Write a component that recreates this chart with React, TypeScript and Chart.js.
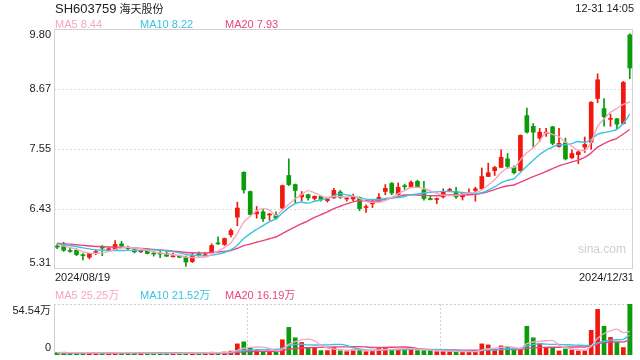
import React, { useEffect, useRef } from "react";
import { Chart, registerables } from "chart.js";

Chart.register(...registerables);

const YEAR = "2024";
const titleCode = "SH603759";
const titleName = "海天股份";
const timeStamp = "12-31 14:05";

const dates = [
  "08/19", "08/20", "08/21", "08/22", "08/23", "08/26", "08/27", "08/28", "08/29", "08/30",
  "09/02", "09/03", "09/04", "09/05", "09/06", "09/09", "09/10", "09/11", "09/12", "09/13",
  "09/18", "09/19", "09/20", "09/23", "09/24", "09/25", "09/26", "09/27", "09/30",
  "10/08", "10/09", "10/10", "10/11", "10/14", "10/15", "10/16", "10/17", "10/18",
  "10/21", "10/22", "10/23", "10/24", "10/25", "10/28", "10/29", "10/30", "10/31",
  "11/01", "11/04", "11/05", "11/06", "11/07", "11/08", "11/11", "11/12", "11/13", "11/14",
  "11/15", "11/18", "11/19", "11/20", "11/21", "11/22", "11/25", "11/26", "11/27", "11/28", "11/29",
  "12/02", "12/03", "12/04", "12/05", "12/06", "12/09", "12/10", "12/11", "12/12", "12/13",
  "12/16", "12/17", "12/18", "12/19", "12/20", "12/23", "12/24", "12/25", "12/26", "12/27",
  "12/30", "12/31",
];

const opens = [
  5.73, 5.75, 5.65, 5.66, 5.57, 5.53, 5.62, 5.71, 5.67, 5.67,
  5.78, 5.70, 5.67, 5.63, 5.67, 5.60, 5.60, 5.60, 5.54, 5.56,
  5.53, 5.45, 5.58, 5.56, 5.63, 5.79, 5.77, 5.95, 6.28, 7.12,
  6.76, 6.34, 6.38, 6.32, 6.32, 6.45, 7.06, 6.89, 6.66, 6.70,
  6.63, 6.67, 6.59, 6.64, 6.75, 6.62, 6.62, 6.65, 6.46, 6.53,
  6.58, 6.76, 6.91, 6.70, 6.86, 6.84, 6.95, 6.79, 6.62, 6.61,
  6.66, 6.78, 6.76, 6.66, 6.72, 6.78, 6.81, 7.04, 7.15, 7.21,
  7.37, 7.21, 7.15, 8.18, 7.98, 7.76, 7.84, 7.97, 7.60, 7.67,
  7.39, 7.45, 7.59, 7.68, 8.50, 8.31, 8.11, 8.12, 8.03, 9.69,
];
const highs = [
  5.78, 5.81, 5.70, 5.69, 5.60, 5.60, 5.66, 5.75, 5.71, 5.84,
  5.83, 5.74, 5.69, 5.66, 5.69, 5.64, 5.65, 5.64, 5.61, 5.57,
  5.55, 5.61, 5.63, 5.62, 5.78, 5.91, 5.89, 6.06, 6.56, 7.13,
  6.77, 6.48, 6.42, 6.35, 6.38, 6.88, 7.37, 6.90, 6.76, 6.71,
  6.68, 6.68, 6.62, 6.82, 6.78, 6.65, 6.71, 6.66, 6.51, 6.61,
  6.72, 6.89, 6.93, 6.92, 6.90, 6.96, 6.97, 6.95, 6.67, 6.64,
  6.81, 6.82, 6.84, 6.74, 6.81, 6.84, 7.20, 7.29, 7.23, 7.54,
  7.47, 7.24, 7.82, 8.32, 8.03, 7.94, 7.94, 7.98, 7.94, 7.76,
  7.54, 7.52, 7.78, 8.44, 8.96, 8.50, 8.21, 8.13, 8.82, 9.71,
];
const lows = [
  5.69, 5.64, 5.62, 5.56, 5.48, 5.50, 5.58, 5.56, 5.66, 5.67,
  5.72, 5.67, 5.61, 5.62, 5.59, 5.55, 5.52, 5.54, 5.53, 5.52,
  5.36, 5.43, 5.55, 5.55, 5.62, 5.77, 5.75, 5.91, 6.12, 6.73,
  6.32, 6.26, 6.20, 6.22, 6.24, 6.43, 6.87, 6.55, 6.58, 6.60,
  6.60, 6.58, 6.56, 6.63, 6.63, 6.58, 6.59, 6.40, 6.37, 6.46,
  6.56, 6.70, 6.70, 6.69, 6.80, 6.83, 6.83, 6.60, 6.60, 6.53,
  6.64, 6.76, 6.63, 6.60, 6.71, 6.58, 6.80, 7.04, 7.06, 7.21,
  7.20, 7.09, 7.14, 7.85, 7.59, 7.70, 7.79, 7.63, 7.59, 7.35,
  7.38, 7.28, 7.49, 7.55, 8.42, 7.98, 7.98, 7.93, 8.02, 8.87,
];
const closes = [
  5.72, 5.66, 5.64, 5.58, 5.56, 5.60, 5.63, 5.70, 5.68, 5.77,
  5.74, 5.69, 5.63, 5.64, 5.60, 5.59, 5.59, 5.55, 5.55, 5.53,
  5.44, 5.56, 5.57, 5.57, 5.75, 5.78, 5.88, 6.03, 6.45, 6.79,
  6.33, 6.38, 6.25, 6.33, 6.26, 6.87, 6.89, 6.78, 6.70, 6.64,
  6.67, 6.61, 6.62, 6.78, 6.65, 6.63, 6.67, 6.44, 6.47, 6.57,
  6.65, 6.82, 6.73, 6.84, 6.85, 6.93, 6.84, 6.63, 6.61, 6.62,
  6.76, 6.79, 6.66, 6.72, 6.73, 6.81, 7.04, 7.11, 7.21, 7.40,
  7.23, 7.11, 7.81, 7.87, 7.87, 7.87, 7.87, 7.66, 7.66, 7.37,
  7.47, 7.50, 7.64, 8.43, 8.85, 8.16, 8.12, 8.02, 8.80, 9.07,
];
// volume in 万
const volumes = [
  2.4, 3.0, 2.2, 2.4, 2.0, 2.2, 2.0, 2.6, 2.2, 2.8,
  2.4, 2.0, 2.2, 1.8, 2.0, 2.0, 2.2, 2.0, 1.8, 2.0,
  2.6, 2.4, 2.0, 2.2, 3.0, 2.6, 3.2, 4.2, 11.9, 14.1,
  7.6, 4.7, 3.6, 3.6, 3.6, 16.3, 29.5, 18.4, 13.4, 7.2,
  7.2, 4.7, 4.7, 8.0, 4.5, 3.6, 5.4, 6.1, 3.6, 4.7,
  6.9, 8.3, 6.1, 6.1, 6.9, 6.5, 4.7, 4.7, 4.7, 3.6,
  4.0, 3.6, 3.6, 3.6, 3.6, 3.6, 11.9, 10.8, 5.4, 9.8,
  8.0, 6.1, 6.5, 30.7, 18.4, 12.6, 8.3, 8.0, 4.3, 6.5,
  5.4, 4.3, 4.7, 26.4, 48.8, 30.7, 18.8, 13.4, 8.0, 54.54,
];
// closes / volumes of the sessions before the first shown day (for the moving averages)
const priorCloses = [5.84, 5.80, 5.82, 5.79, 5.83, 5.81, 5.78, 5.80, 5.82, 5.79, 5.77, 5.81, 5.80, 5.78, 5.79, 5.80, 5.77, 5.76, 5.78];
const priorVolumes = [2.6, 2.4, 2.8, 2.5, 2.3, 2.7, 2.4, 2.6, 2.5, 2.3, 2.4, 2.6, 2.5, 2.2, 2.4, 2.6, 2.3, 2.5, 2.4];

const priceTicks = [5.31, 6.4325, 7.555, 8.6775, 9.8];
const priceTickLabels = ["5.31", "6.43", "7.55", "8.67", "9.80"];
const volMax = 54.54;
const volTicks = [0, 54.54];
const volTickLabels = ["0", "54.54万"];

const maPeriods = [5, 10, 20];
const maPriceLegend = ["8.44", "8.22", "7.93"];
const maVolLegend = ["25.25万", "21.52万", "16.19万"];

const RED = "#f0190e";
const GREEN = "#0a9c0a";
const MA_COLORS = ["#f7a6c4", "#3cc2e2", "#e9457d"];
const FONT = '"Liberation Sans", Arial, "Noto Sans CJK SC", sans-serif';

function movingAvg(series: number[], prior: number[], n: number) {
  const all = prior.concat(series);
  return series.map((_, i) => {
    const end = prior.length + i + 1;
    const slice = all.slice(Math.max(0, end - n), end);
    return slice.reduce((a, b) => a + b, 0) / slice.length;
  });
}

function lineDs(data: number[], color: string) {
  return {
    type: "line" as const,
    data,
    borderColor: color,
    borderWidth: 1.4,
    pointRadius: 0,
    cubicInterpolationMode: "monotone" as const,
    fill: false,
    order: 0,
  };
}

export default function App() {
  const mainRef = useRef<HTMLCanvasElement>(null);
  const volRef = useRef<HTMLCanvasElement>(null);

  useEffect(() => {
    const labels = dates.map((d) => `${YEAR}/${d}`);
    const colors = closes.map((c, i) => (c > opens[i] ? RED : GREEN));
    const bodies = opens.map((o, i) => [o, closes[i]]);
    const wicks = lows.map((l, i) => [l, highs[i]]);
    const priceMAs = maPeriods.map((n) => movingAvg(closes, priorCloses, n));
    const volMAs = maPeriods.map((n) => movingAvg(volumes, priorVolumes, n));

    const mainFrame = {
      id: "mainFrame",
      beforeDatasetsDraw(chart: any) {
        const { ctx, chartArea: a } = chart;
        const y = chart.scales.y;
        ctx.save();
        ctx.strokeStyle = "#dadada";
        ctx.lineWidth = 1;
        ctx.setLineDash([2, 2]);
        priceTicks.slice(1, -1).forEach((v) => {
          const py = Math.round(y.getPixelForValue(v)) + 0.5;
          ctx.beginPath();
          ctx.moveTo(a.left, py);
          ctx.lineTo(a.right, py);
          ctx.stroke();
        });
        ctx.setLineDash([]);
        ctx.strokeStyle = "#d2d2d2";
        ctx.strokeRect(a.left + 0.5, a.top + 0.5, a.right - a.left - 1, a.bottom - a.top - 1);
        ctx.fillStyle = "#222";
        ctx.font = `11px ${FONT}`;
        ctx.textAlign = "right";
        ctx.textBaseline = "middle";
        priceTicks.forEach((v, i) => {
          let py = y.getPixelForValue(v);
          py = Math.min(Math.max(py, a.top + 6), a.bottom - 6);
          ctx.fillText(priceTickLabels[i], a.left - 3, py);
        });
        ctx.restore();
      },
    };

    const volFrame = {
      id: "volFrame",
      beforeDatasetsDraw(chart: any) {
        const { ctx, chartArea: a } = chart;
        const y = chart.scales.y;
        ctx.save();
        ctx.strokeStyle = "#d0d0d0";
        ctx.lineWidth = 1;
        ctx.setLineDash([2, 2]);
        [a.top, a.bottom - 1].forEach((py) => {
          ctx.beginPath();
          ctx.moveTo(a.left, Math.round(py) + 0.5);
          ctx.lineTo(a.right, Math.round(py) + 0.5);
          ctx.stroke();
        });
        [1, 2].forEach((k) => {
          const px = Math.round(a.left + ((a.right - a.left) * k) / 3) + 0.5;
          ctx.beginPath();
          ctx.moveTo(px, a.top);
          ctx.lineTo(px, a.bottom);
          ctx.stroke();
        });
        ctx.setLineDash([]);
        ctx.strokeStyle = "#d2d2d2";
        [a.left + 0.5, a.right - 0.5].forEach((px) => {
          ctx.beginPath();
          ctx.moveTo(px, a.top);
          ctx.lineTo(px, a.bottom);
          ctx.stroke();
        });
        ctx.fillStyle = "#222";
        ctx.font = `11px ${FONT}`;
        ctx.textAlign = "right";
        ctx.textBaseline = "middle";
        volTicks.forEach((v, i) => {
          let py = y.getPixelForValue(v);
          py = Math.min(Math.max(py, a.top + 7), a.bottom - 7);
          ctx.fillText(volTickLabels[i], a.left - 3, py);
        });
        ctx.restore();
      },
    };

    const common = {
      animation: false as const,
      responsive: false,
      maintainAspectRatio: false,
      events: [] as any[],
      plugins: { legend: { display: false }, tooltip: { enabled: false } },
    };

    const main = new Chart(mainRef.current!, {
      type: "bar",
      data: {
        labels,
        datasets: [
          ...priceMAs.map((d, k) => lineDs(d, MA_COLORS[k])),
          { type: "bar", data: wicks as any, backgroundColor: colors, barThickness: 1, grouped: false, order: 2 },
          { type: "bar", data: bodies as any, backgroundColor: colors, barThickness: 4, grouped: false, minBarLength: 1, order: 1 },
        ] as any,
      },
      options: {
        ...common,
        layout: { padding: { left: 54, right: 7, top: 29, bottom: 11 } },
        scales: {
          x: { display: false, offset: true },
          y: { display: false, min: priceTicks[0], max: priceTicks[priceTicks.length - 1] },
        },
      } as any,
      plugins: [mainFrame],
    });

    const vol = new Chart(volRef.current!, {
      type: "bar",
      data: {
        labels,
        datasets: [
          ...volMAs.map((d, k) => lineDs(d, MA_COLORS[k])),
          { type: "bar", data: volumes, backgroundColor: colors, barThickness: 4, grouped: false, order: 1 },
        ] as any,
      },
      options: {
        ...common,
        layout: { padding: { left: 54, right: 7, top: 19, bottom: 5 } },
        scales: {
          x: { display: false, offset: true },
          y: { display: false, min: 0, max: volMax },
        },
      } as any,
      plugins: [volFrame],
    });

    return () => {
      main.destroy();
      vol.destroy();
    };
  }, []);

  const txt = (
    content: React.ReactNode,
    key: string,
    x: number,
    cy: number,
    size: number,
    color: string,
    align: "left" | "right" | "center" = "left"
  ) => {
    const style: React.CSSProperties = {
      position: "absolute",
      top: cy - 8,
      height: 16,
      lineHeight: "16px",
      fontSize: size,
      color,
      whiteSpace: "nowrap",
      fontFamily: FONT,
    };
    if (align === "left") style.left = x;
    else if (align === "right") style.right = 640 - x;
    else {
      style.left = x - 50;
      style.width = 100;
      style.textAlign = "center";
    }
    return (
      <div key={key} style={style}>
        {content}
      </div>
    );
  };

  const legendX = [55, 140, 225];

  return (
    <div style={{ position: "absolute", left: 0, top: 0, width: 640, height: 360, background: "#fff", overflow: "hidden" }}>
      <canvas ref={mainRef} width={640} height={280} style={{ position: "absolute", left: 0, top: 0, width: 640, height: 280 }} />
      <canvas ref={volRef} width={640} height={75} style={{ position: "absolute", left: 0, top: 285, width: 640, height: 75 }} />
      {txt(
        <>
          {titleCode}
          <span style={{ fontSize: 11, marginLeft: 3, fontFamily: '"Noto Sans CJK SC", sans-serif' }}>{titleName}</span>
        </>,
        "title",
        55,
        7.5,
        13,
        "#222"
      )}
      {txt(timeStamp, "ts", 634, 8, 11, "#222", "right")}
      {maPeriods.map((n, k) => txt(`MA${n} ${maPriceLegend[k]}`, `pm${n}`, legendX[k], 24, 11, MA_COLORS[k]))}
      {txt(`${YEAR}/${dates[0]}`, "d0", 55, 277, 11, "#222")}
      {txt(`${YEAR}/${dates[dates.length - 1]}`, "d1", 634, 277, 11, "#222", "right")}
      {maPeriods.map((n, k) => txt(`MA${n} ${maVolLegend[k]}`, `vm${n}`, legendX[k], 295, 11, MA_COLORS[k]))}
      {txt("sina.com", "wm", 602, 249, 12, "#cfcfcf", "center")}
    </div>
  );
}
